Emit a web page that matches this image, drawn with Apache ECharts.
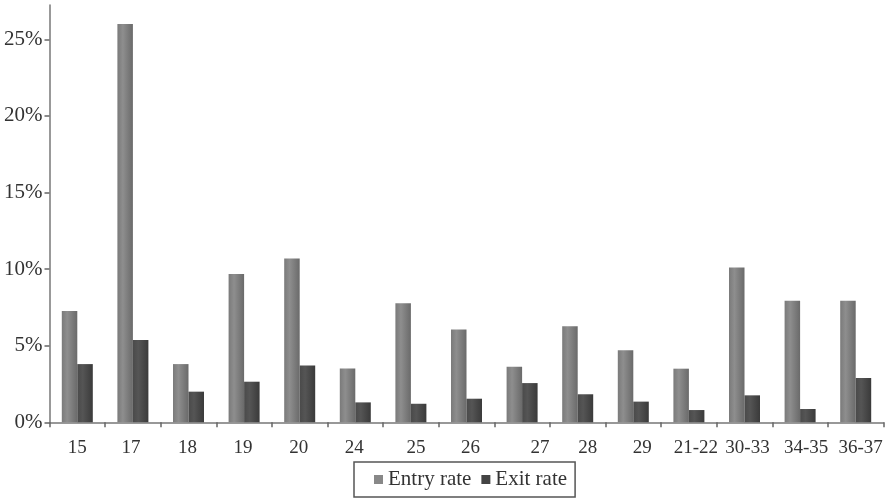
<!DOCTYPE html>
<html>
<head>
<meta charset="utf-8">
<script src="https://cdn.jsdelivr.net/npm/echarts@6/dist/echarts.min.js"></script>
<style>
html,body{margin:0;padding:0;background:#fff;}
#chart{width:893px;height:502px;}
</style>
</head>
<body>
<div id="chart"></div>
<script>
const categories = ['15','17','18','19','20','24','25','26','27','28','29','21-22','30-33','34-35','36-37'];
const entryRate = [7.27, 26.0, 3.8, 9.68, 10.7, 3.52, 7.77, 6.05, 3.63, 6.27, 4.7, 3.5, 10.1, 7.94, 7.94];
const exitRate = [3.8, 5.37, 2.0, 2.65, 3.7, 1.3, 1.21, 1.54, 2.56, 1.83, 1.35, 0.8, 1.76, 0.87, 2.89];
const yTicks = [0, 5, 10, 15, 20, 25];
// horizontal nudge of each category label as typeset in the source (px)
const labelShift = [0, -2, -1, -1, -1, -1, 5, 4, 18, 10, 9, 7, 3, 6, 5];

const chart = echarts.init(document.getElementById('chart'));
const font = 'Liberation Serif';
const entryColor = new echarts.graphic.LinearGradient(0, 0, 1, 0, [
  {offset: 0, color: '#7a7a7a'}, {offset: 0.35, color: '#8e8e8e'}, {offset: 1, color: '#6a6a6a'}
]);
const exitColor = new echarts.graphic.LinearGradient(0, 0, 1, 0, [
  {offset: 0, color: '#4a4a4a'}, {offset: 0.35, color: '#555555'}, {offset: 1, color: '#3a3a3a'}
]);
const xData = categories.map((c, i) => {
  const s = labelShift[i];
  const pad = s >= 0 ? [0, 0, 0, 2 * s] : [0, -2 * s, 0, 0];
  return {value: c, textStyle: {padding: pad}};
});
chart.setOption({
  animation: false,
  backgroundColor: '#fff',
  grid: {left: 49.5, right: 9.5, top: 5, bottom: 79.7, containLabel: false},
  legend: {
    left: 354, top: 462,
    orient: 'horizontal',
    itemWidth: 9, itemHeight: 9, itemGap: 10,
    padding: [7, 8, 7, 20],
    borderColor: '#555', borderWidth: 1.5,
    textStyle: {fontFamily: font, fontSize: 21, color: '#333'},
    data: [
      {name: 'Entry rate', icon: 'rect', itemStyle: {color: '#888'}},
      {name: 'Exit rate', icon: 'rect', itemStyle: {color: '#444'}}
    ]
  },
  xAxis: {
    type: 'category',
    data: xData,
    axisLine: {lineStyle: {color: '#777', width: 1.5}},
    axisTick: {show: true, alignWithLabel: false, length: 5, lineStyle: {color: '#666', width: 1.5}},
    axisLabel: {fontFamily: font, fontSize: 19, color: '#333', margin: 16, interval: 0}
  },
  yAxis: {
    type: 'value',
    min: 0, max: 27.24,
    splitLine: {show: false},
    axisLine: {show: true, lineStyle: {color: '#777', width: 1.5}},
    axisTick: {show: true, length: 5, lineStyle: {color: '#666', width: 1.5}, customValues: yTicks},
    axisLabel: {fontFamily: font, fontSize: 21, color: '#333', margin: 7, customValues: yTicks,
      formatter: v => v + '%'}
  },
  series: [
    {name: 'Entry rate', type: 'bar', data: entryRate, barWidth: 15.5, barGap: '0%',
     itemStyle: {color: entryColor}},
    {name: 'Exit rate', type: 'bar', data: exitRate, barWidth: 15.5, barGap: '0%',
     itemStyle: {color: exitColor}}
  ]
});
</script>
</body>
</html>
